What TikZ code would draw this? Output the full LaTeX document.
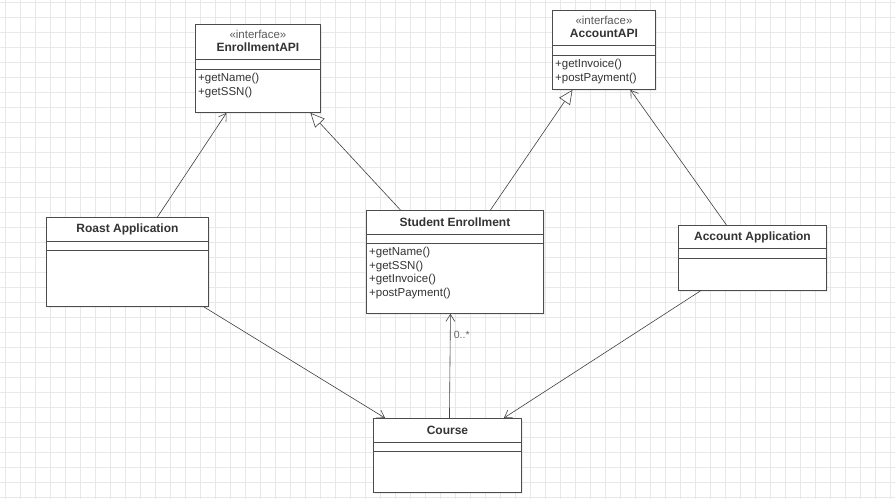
\documentclass[tikz,border=0pt]{standalone}
\usepackage{fontspec}
\setmainfont{Liberation Sans}
\usetikzlibrary{arrows.meta,shadows}

\begin{document}
\begin{tikzpicture}[x=1pt,y=-1pt,
  gridline/.style={draw=black!9, line width=0.5pt},
  classbox/.style={rectangle, draw=black!70, fill=white, line width=0.9pt, anchor=north west, inner sep=0pt,
    drop shadow={shadow xshift=2pt,shadow yshift=-2pt,opacity=0.12}},
  classname/.style={font=\fontsize{12}{13}\selectfont\bfseries, text=black!80},
  stereo/.style={font=\fontsize{11.5}{12}\selectfont, text=black!65},
  members/.style={font=\fontsize{11.5}{13.7}\selectfont, text=black!80, align=left, anchor=north west, inner sep=0pt},
  sep/.style={draw=black!70, line width=0.9pt},
  assoc/.style={draw=black!75, line width=0.6pt, -{Straight Barb[length=7pt,width=9pt]}},
  realize/.style={draw=black!75, line width=0.6pt, -{Triangle[open,length=14pt,width=13pt,fill=white]}}
]
\useasboundingbox (0,0) rectangle (895,499);
\fill[white] (0,0) rectangle (895,499);
\foreach \x in {5,20,...,890} \draw[gridline] (\x,0) -- (\x,499);
\foreach \y in {2,17,...,497} \draw[gridline] (0,\y) -- (895,\y);

% interfaces
\node[classbox, minimum width=125, minimum height=88] (eapi) at (195,24) {};
\node[stereo] at ([yshift=-10]eapi.north) {«interface»};
\node[classname] at ([yshift=-23.5]eapi.north) {EnrollmentAPI};
\draw[sep] ([yshift=-35]eapi.north west) -- ([yshift=-35]eapi.north east);
\draw[sep] ([yshift=-45]eapi.north west) -- ([yshift=-45]eapi.north east);
\node[members] at ([xshift=3,yshift=-49]eapi.north west) {+getName()\\+getSSN()};

\node[classbox, minimum width=103, minimum height=79] (aapi) at (552,10) {};
\node[stereo] at ([yshift=-10]aapi.north) {«interface»};
\node[classname] at ([yshift=-23.5]aapi.north) {AccountAPI};
\draw[sep] ([yshift=-35]aapi.north west) -- ([yshift=-35]aapi.north east);
\draw[sep] ([yshift=-45]aapi.north west) -- ([yshift=-45]aapi.north east);
\node[members] at ([xshift=3,yshift=-49]aapi.north west) {+getInvoice()\\+postPayment()};

% classes
\node[classbox, minimum width=177, minimum height=103] (stud) at (366,210) {};
\node[classname] at ([yshift=-12]stud.north) {Student Enrollment};
\draw[sep] ([yshift=-24]stud.north west) -- ([yshift=-24]stud.north east);
\draw[sep] ([yshift=-33]stud.north west) -- ([yshift=-33]stud.north east);
\node[members] at ([xshift=3,yshift=-37]stud.north west) {+getName()\\+getSSN()\\+getInvoice()\\+postPayment()};

\node[classbox, minimum width=162, minimum height=89] (roast) at (46,217) {};
\node[classname] at ([yshift=-12]roast.north) {Roast Application};
\draw[sep] ([yshift=-24]roast.north west) -- ([yshift=-24]roast.north east);
\draw[sep] ([yshift=-33]roast.north west) -- ([yshift=-33]roast.north east);

\node[classbox, minimum width=148, minimum height=65] (accapp) at (678,225) {};
\node[classname] at ([yshift=-12]accapp.north) {Account Application};
\draw[sep] ([yshift=-23]accapp.north west) -- ([yshift=-23]accapp.north east);
\draw[sep] ([yshift=-33]accapp.north west) -- ([yshift=-33]accapp.north east);

\node[classbox, minimum width=148, minimum height=74] (course) at (373,418) {};
\node[classname] at ([yshift=-12]course.north) {Course};
\draw[sep] ([yshift=-24]course.north west) -- ([yshift=-24]course.north east);
\draw[sep] ([yshift=-33]course.north west) -- ([yshift=-33]course.north east);

% connectors
\draw[assoc] ([xshift=30]roast.north) -- ([xshift=-31.5]eapi.south);
\draw[realize] ([xshift=-54.5]stud.north) -- ([xshift=52.5]eapi.south);
\draw[realize] ([xshift=35.5]stud.north) -- ([xshift=-31.5]aapi.south);
\draw[assoc] ([xshift=-26]accapp.north) -- ([xshift=26.5]aapi.south);
\draw[assoc] ([xshift=-5]roast.south east) -- ([xshift=12]course.north west);
\draw[assoc] ([xshift=-52]accapp.south) -- ([xshift=-18]course.north east);
\draw[assoc] ([xshift=2]course.north) -- ([xshift=-4.5]stud.south)
  node[pos=0.8, right, font=\fontsize{10.5}{12}\selectfont, text=black!60] {0..*};
\end{tikzpicture}
\end{document}
